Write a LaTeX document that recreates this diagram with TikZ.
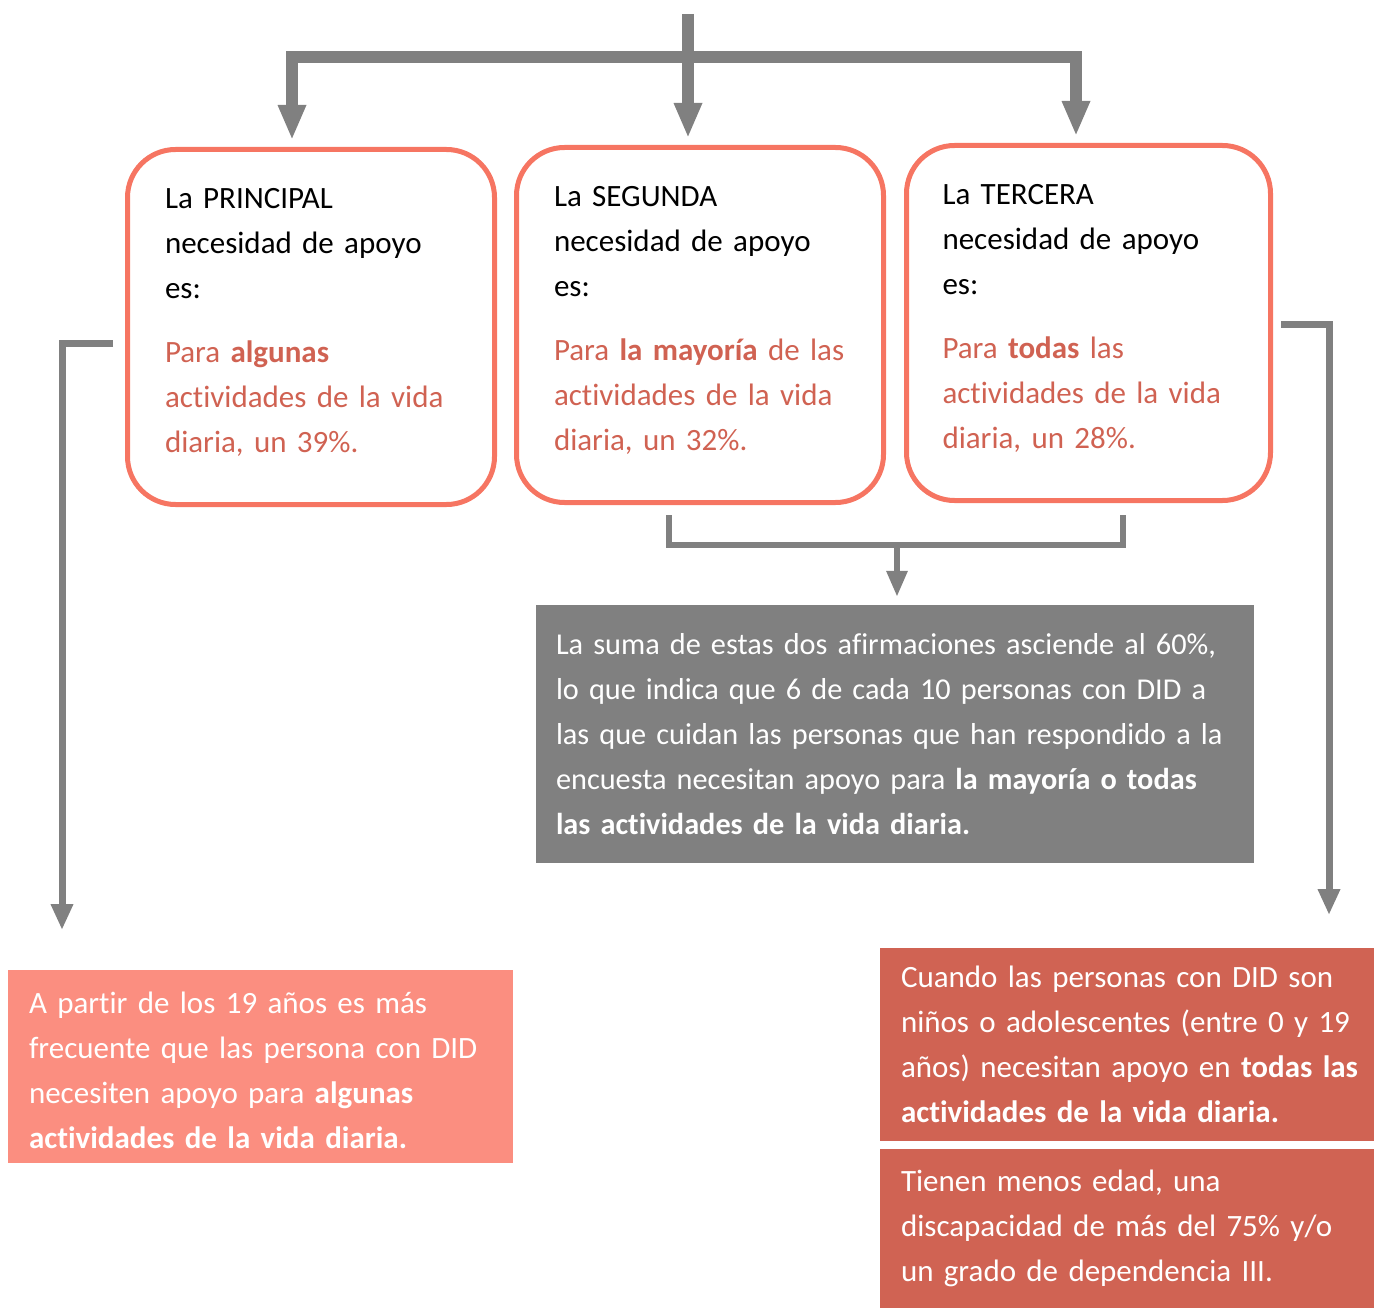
\documentclass[tikz,border=0pt]{standalone}
\usepackage{fontspec}
\setmainfont{Carlito}[Ligatures=NoCommon]
\usetikzlibrary{arrows.meta, positioning, calc}
\definecolor{coral}{RGB}{246,117,98}
\definecolor{redtext}{RGB}{208,98,82}
\definecolor{darkred}{RGB}{208,99,83}
\definecolor{salmon}{RGB}{251,142,128}
\definecolor{arrowgray}{RGB}{128,128,128}

\begin{document}
\begin{tikzpicture}[x=1pt, y=-1pt,
  font=\fontsize{31}{45}\selectfont,
  need/.style={draw=coral, line width=5pt, rounded corners=48pt,
               minimum width=367pt, minimum height=355pt,
               text width=292pt, align=left, inner sep=0pt},
  infobox/.style={inner sep=0pt, align=left, text=white},
  bigarrow/.style={draw=arrowgray, line width=12pt,
                   -{Triangle[width=26pt, length=35pt]}, shorten >=7pt},
  bracket/.style={draw=arrowgray, line width=6pt},
  midarrow/.style={draw=arrowgray, line width=6pt,
                   -{Triangle[width=20pt, length=26pt]}, shorten >=8pt},
  sidearrow/.style={draw=arrowgray, line width=7pt,
                    -{Triangle[width=21pt, length=26pt]}}]

  \useasboundingbox (0,0) rectangle (1374,1308);

  % three needs
  \node[need] (principal) at (311,327)
    {La PRINCIPAL\\ necesidad de apoyo\\ es:\\[19pt]
     \color{redtext}Para \textbf{algunas}\\ actividades de la vida\\
     diaria, un 39\%.\vspace{9pt}};
  \node[need] (segunda) at (700,325)
    {La SEGUNDA\\ necesidad de apoyo\\ es:\\[19pt]
     \color{redtext}Para \textbf{la mayoría} de las\\ actividades de la vida\\
     diaria, un 32\%.\vspace{9pt}};
  \node[need, minimum width=364pt] (tercera) at (1088.5,323)
    {La TERCERA\\ necesidad de apoyo\\ es:\\[19pt]
     \color{redtext}Para \textbf{todas} las\\ actividades de la vida\\
     diaria, un 28\%.\vspace{9pt}};

  % conclusions
  \node[infobox, fill=arrowgray, minimum width=718pt, minimum height=258pt,
        text width=678pt, font=\fontsize{30.3}{45}\selectfont] (suma) at (895,734)
    {La suma de estas dos afirmaciones asciende al 60\%,\\
     lo que indica que 6 de cada 10 personas con DID a\\
     las que cuidan las personas que han respondido a la\\
     encuesta necesitan apoyo para \textbf{la mayoría o todas}\\
     \textbf{las actividades de la vida diaria.}};
  \node[infobox, fill=salmon, minimum width=505pt, minimum height=193pt,
        text width=463pt] (adultos) at (260.5,1066.5)
    {A partir de los 19 años es más\\
     frecuente que las persona con DID\\
     necesiten apoyo para \textbf{algunas}\\
     \textbf{actividades de la vida diaria.}\vspace{-8pt}};
  \node[infobox, fill=darkred, minimum width=504pt, minimum height=193pt,
        text width=462pt] (ninos) at (1132,1044.5)
    {Cuando las personas con DID son\\
     niños o adolescentes (entre 0 y 19\\
     años) necesitan apoyo en \textbf{todas las}\\
     \textbf{actividades de la vida diaria.}};
  \node[infobox, fill=darkred, minimum width=504pt, minimum height=159pt,
        text width=462pt] (perfil) at (1132,1228.5)
    {Tienen menos edad, una\\
     discapacidad de más del 75\% y/o\\
     un grado de dependencia III.};

  % connectors
  \coordinate (trunktop) at (688,14);
  \coordinate (bar) at (688,57);
  \coordinate (brmid) at (897,545);
  \coordinate (leftend) at (62,930);
  \coordinate (rightend) at (1329,915);

  \draw[bigarrow] (trunktop) -- ([xshift=-12pt]segunda.north);
  \draw[bigarrow] (bar) -| ([xshift=-19pt]principal.north);
  \draw[bigarrow] (bar) -| ([xshift=-12.5pt]tercera.north);

  \draw[bracket] ([shift={(-31,10)}]segunda.south) |- (brmid)
                 -| ([shift={(34.5,12)}]tercera.south);
  \draw[midarrow] (brmid) -- (brmid |- suma.north);

  \draw[sidearrow] ([shift={(-12,16)}]principal.west) -| (leftend);
  \draw[sidearrow] ([shift={(8,1)}]tercera.east) -| (rightend);
\end{tikzpicture}
\end{document}
